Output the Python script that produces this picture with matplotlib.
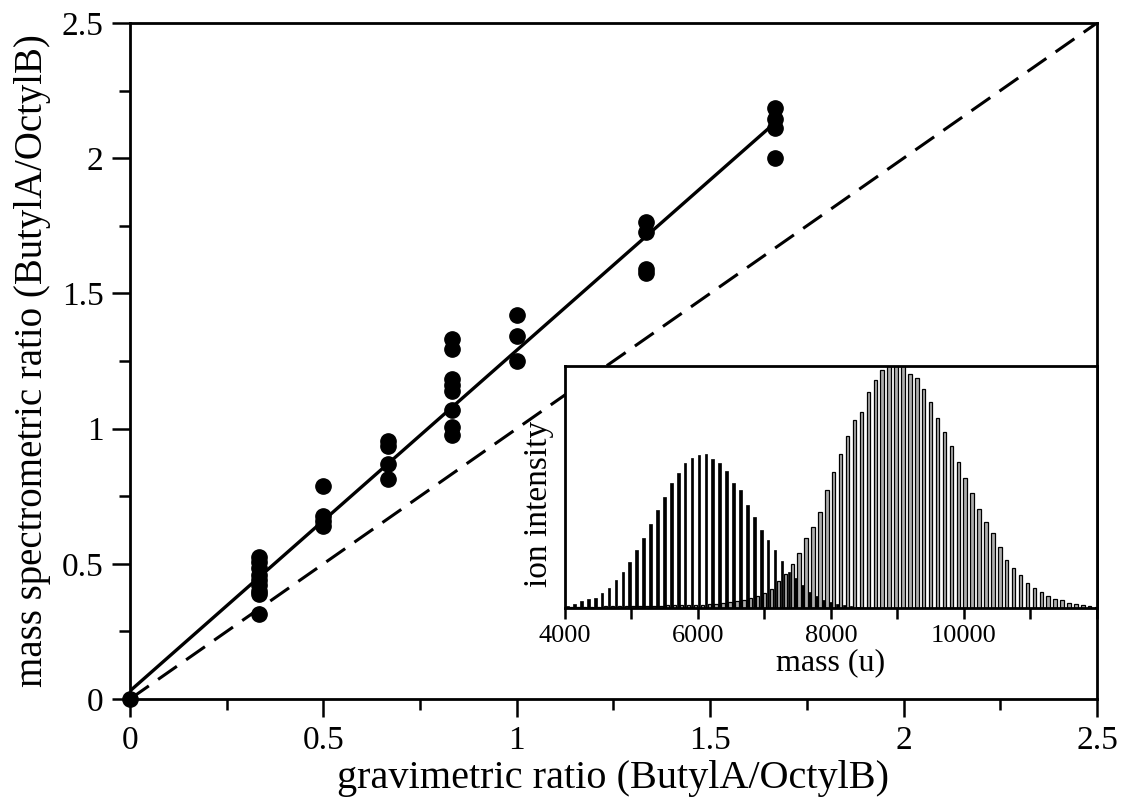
import numpy as np
import matplotlib
matplotlib.use("Agg")
import matplotlib.pyplot as plt
from matplotlib.ticker import MultipleLocator, FuncFormatter

plt.rcParams['font.family'] = ['Liberation Serif', 'DejaVu Serif']

# gravimetric vs. mass spectrometric ratios (ButylA/OctylB)
grav = [0.0,
        1/3, 1/3, 1/3, 1/3, 1/3, 1/3, 1/3, 1/3, 1/3,
        0.5, 0.5, 0.5, 0.5,
        2/3, 2/3, 2/3, 2/3,
        5/6, 5/6, 5/6, 5/6, 5/6, 5/6, 5/6, 5/6,
        1.0, 1.0, 1.0,
        4/3, 4/3, 4/3, 4/3,
        5/3, 5/3, 5/3, 5/3]
ms_ratio = [0.0,
            0.525, 0.505, 0.485, 0.46, 0.44, 0.42, 0.40, 0.39, 0.315,
            0.786, 0.675, 0.66, 0.64,
            0.955, 0.935, 0.87, 0.815,
            1.33, 1.296, 1.185, 1.16, 1.14, 1.067, 1.006, 0.978,
            1.42, 1.342, 1.25,
            1.765, 1.727, 1.59, 1.575,
            2.185, 2.145, 2.11, 2.0]

# linear fit of the data
fit_slope = 1.26
fit_intercept = 0.03
fit_range = [0.0, 5/3]

# inset: mass spectra, ButylA (black) and OctylB (grey)
mass_a = [4040, 4144, 4248, 4352, 4456, 4560, 4664, 4768, 4872, 4976,
          5080, 5184, 5288, 5392, 5496, 5600, 5704, 5808, 5912, 6016,
          6120, 6224, 6328, 6432, 6536, 6640, 6744, 6848, 6952, 7056,
          7160, 7264, 7368, 7472, 7576, 7680, 7784, 7888, 7992, 8096,
          8200, 8304, 8408]
int_a = [0.010, 0.017, 0.028, 0.036, 0.040, 0.061, 0.082, 0.117, 0.147, 0.189,
         0.238, 0.288, 0.347, 0.406, 0.460, 0.515, 0.558, 0.599, 0.621, 0.632,
         0.635, 0.617, 0.599, 0.567, 0.517, 0.486, 0.424, 0.375, 0.322, 0.283,
         0.239, 0.193, 0.150, 0.125, 0.095, 0.068, 0.050, 0.035, 0.025, 0.018,
         0.012, 0.008, 0.005]

mass_b = [4091, 4195, 4299, 4403, 4507, 4611, 4715, 4819, 4923, 5027,
          5131, 5235, 5339, 5443, 5547, 5651, 5755, 5859, 5963, 6067,
          6171, 6275, 6379, 6483, 6587, 6691, 6795, 6899, 7003, 7107,
          7211, 7315, 7419, 7523, 7627, 7731, 7835, 7939, 8043, 8147,
          8251, 8355, 8459, 8563, 8667, 8771, 8875, 8979, 9083, 9187,
          9291, 9395, 9499, 9603, 9707, 9811, 9915, 10019, 10123, 10227,
          10331, 10435, 10539, 10643, 10747, 10851, 10955, 11059, 11163, 11267,
          11371, 11475, 11579, 11683, 11787, 11891, 11995]
int_b = [0.004, 0.005, 0.005, 0.006, 0.006, 0.007, 0.007, 0.008, 0.008, 0.009,
         0.009, 0.010, 0.010, 0.010, 0.011, 0.011, 0.012, 0.012, 0.013, 0.014,
         0.016, 0.018, 0.021, 0.024, 0.027, 0.032, 0.040, 0.050, 0.063, 0.080,
         0.110, 0.140, 0.180, 0.228, 0.288, 0.336, 0.397, 0.486, 0.561, 0.638,
         0.711, 0.778, 0.811, 0.894, 0.944, 0.982, 1.000, 1.000, 1.000, 0.968,
         0.950, 0.906, 0.850, 0.783, 0.729, 0.669, 0.603, 0.536, 0.475, 0.410,
         0.356, 0.308, 0.253, 0.197, 0.167, 0.135, 0.103, 0.083, 0.068, 0.051,
         0.036, 0.031, 0.019, 0.015, 0.0125, 0.008, 0.006]

fig = plt.figure(figsize=(11.23, 8.07), dpi=100)
ax = fig.add_axes([0.1158, 0.1338, 0.861, 0.8377])

# y = x reference
ax.plot([0, 2.5], [0, 2.5], color='k', lw=2.2, dashes=(7.5, 3.7))
xf = np.array(fit_range)
ax.plot(xf, fit_intercept + fit_slope * xf, color='k', lw=2.4)
ax.plot(grav, ms_ratio, 'o', color='k', ms=11, clip_on=False, zorder=4)

ax.set_xlim(0, 2.5)
ax.set_ylim(0, 2.5)
fmt = FuncFormatter(lambda v, p: f"{v:g}")
for axis in (ax.xaxis, ax.yaxis):
    axis.set_major_locator(MultipleLocator(0.5))
    axis.set_minor_locator(MultipleLocator(0.25))
    axis.set_major_formatter(fmt)
ax.tick_params(which='both', direction='out', top=False, right=False, width=1.8)
ax.tick_params(which='major', length=13, labelsize=24, pad=6)
ax.tick_params(which='minor', length=8)
for s in ax.spines.values():
    s.set_linewidth(2.0)
ax.set_xlabel("gravimetric ratio (ButylA/OctylB)", fontsize=29, labelpad=3)
ax.set_ylabel("mass spectrometric ratio (ButylA/OctylB)", fontsize=28, labelpad=8)

# inset with the mass spectra
ins = fig.add_axes([0.503, 0.2466, 0.4738, 0.2999])
ins.set_facecolor('white')
ins.bar(mass_b, int_b, width=52, color='#acacac', edgecolor='k', linewidth=0.9)
ins.bar(mass_a, int_a, width=40, color='k', edgecolor='k', linewidth=0.5)
ins.set_xlim(4000, 12000)
ins.set_ylim(0, 1.0)
ins.set_yticks([])
ins.xaxis.set_major_locator(MultipleLocator(1000))
ins.xaxis.set_major_formatter(FuncFormatter(lambda v, p: f"{v:.0f}" if int(v) % 2000 == 0 and v < 11500 else ""))
ins.tick_params(axis='x', direction='out', length=8, width=1.8, labelsize=19, pad=4)
for s in ins.spines.values():
    s.set_linewidth(2.0)
ins.set_xlabel("mass (u)", fontsize=23, labelpad=1)
ins.set_ylabel("ion intensity", fontsize=24)
ins.yaxis.set_label_coords(-0.02, 0.43)

fig.savefig("out.png", dpi=100)
